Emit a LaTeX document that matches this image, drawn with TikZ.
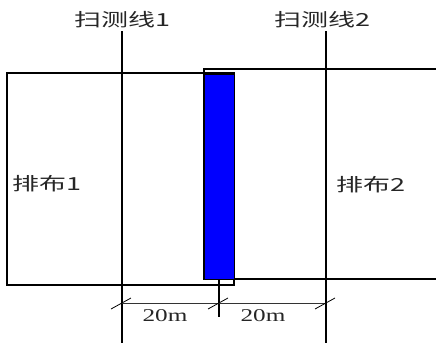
\documentclass[tikz,border=0pt]{standalone}
\usepackage{fontspec}
\newfontfamily\cjk[FakeStretch=1.5]{Noto Sans CJK SC}
\newfontfamily\numf[FakeStretch=1.4]{Liberation Serif}
\begin{document}
\begin{tikzpicture}[x=1pt,y=-1pt,
  outline/.style={draw=black,line width=1.1pt},
  scanline/.style={draw=black,line width=1.2pt},
  lbl/.style={font=\cjk\fontsize{18}{18}\selectfont,text=black!85,inner sep=0pt},
  dim/.style={font=\numf\fontsize{18}{18}\selectfont,text=black!85,inner sep=0pt},
  tick/.style={draw=black,line width=0.8pt}]
\useasboundingbox (0,0) rectangle (436,343);
% arrangement areas
\draw[outline] (7,73) rectangle (234,285);
\draw[outline] (436,69) -- (204,69) -- (204,279) -- (436,279);
% blue strip
\draw[fill=blue,draw=black,line width=1pt] (204,74) rectangle (234,279);
% coordinates
\coordinate (s1top) at (122,31);
\coordinate (s1bot) at (122,343);
\coordinate (s2top) at (326,31);
\coordinate (s2bot) at (326,343);
\coordinate (mtop) at (219,279);
\coordinate (mbot) at (219,317);
\coordinate (d1) at (122,303);
\coordinate (d2) at (219,303);
\coordinate (d3) at (326,303);
% scan lines
\draw[scanline] (s1top) -- (s1bot);
\draw[scanline] (s2top) -- (s2bot);
\draw[scanline] (mtop) -- (mbot);
% dimension line
\draw[draw=black!80,line width=0.8pt] (d1) -- (d3);
\foreach \p in {d1,d2,d3}
  \draw[tick] ([shift={(-11,6)}]\p) -- ([shift={(9,-5)}]\p);
% labels
\node[lbl] (t1) at (122,20) {扫测线1};
\node[lbl] (t2) at (322,20) {扫测线2};
\node[lbl] (a1) at (47,184) {排布1};
\node[lbl] (a2) at (371,185) {排布2};
\node[dim] (m1) at (165,316) {20m};
\node[dim] (m2) at (263,316) {20m};
\end{tikzpicture}
\end{document}
